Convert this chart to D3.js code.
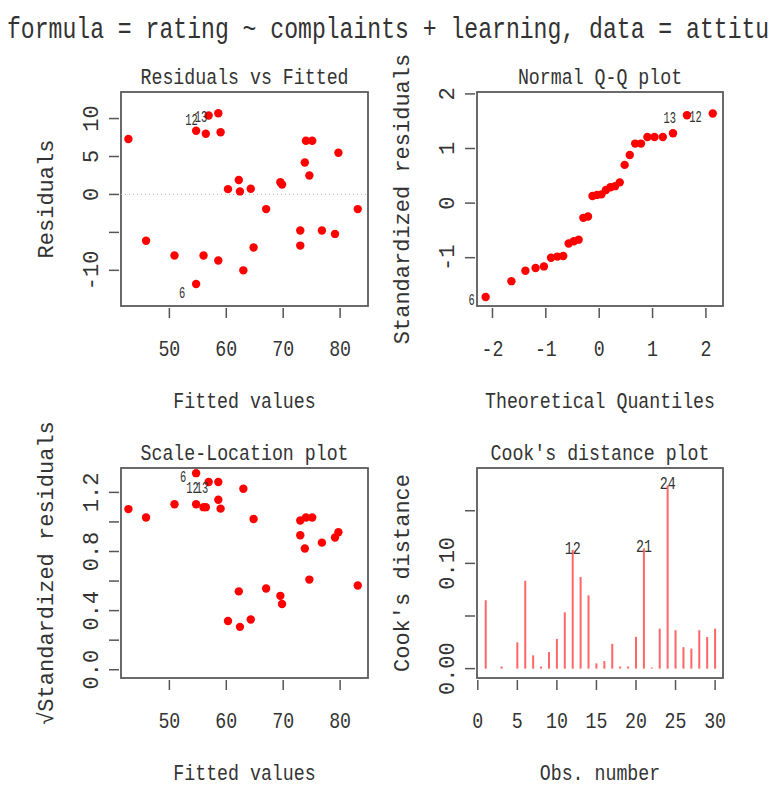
<!DOCTYPE html>
<html>
<head>
<meta charset="utf-8">
<script src="https://cdn.jsdelivr.net/npm/d3@7"></script>
<style>
body { margin: 0; background: #fff; }
text { font-family: "Liberation Mono", "DejaVu Sans Mono", monospace; fill: #333; }
</style>
</head>
<body>
<svg id="chart" width="769" height="786"></svg>
<script>
// lm(rating ~ complaints + learning, data = attitude)
var fitted = [50.9, 62.4, 69.5, 60.3, 74.0, 54.7, 64.8, 69.8, 76.8, 59.0,
	56.4, 56.9, 58.6, 73.0, 74.6, 83.1, 79.1, 64.3, 67.0, 58.6,
	42.8, 62.2, 63.0, 45.9, 54.7, 73.0, 73.8, 56.0, 79.7, 75.1];
var residuals = [-8.05, 0.4, 1.6, 0.7, 7.07, -11.8, -7.0, 1.3, -4.76, 8.2,
	8.0, 10.4, 10.7, -4.76, 2.5, -1.93, -5.2, 0.75, -1.93, -8.7,
	7.3, 1.9, -10.0, -6.1, 8.4, -6.74, 4.2, -8.05, 5.5, 7.07];
var sqrtStdResid = [1.12, 0.29, 0.50, 0.33, 1.03, 1.33, 1.02, 0.445, 0.86, 1.09,
	1.10, 1.27, 1.27, 1.01, 0.61, 0.57, 0.895, 0.34, 0.55, 1.15,
	1.087, 0.53, 1.225, 1.03, 1.12, 0.91, 0.82, 1.10, 0.93, 1.03];
var qqTheoretical = [-2.128, -1.645, -1.383, -1.192, -1.036, -0.903, -0.783, -0.674, -0.573, -0.477,
	-0.385, -0.297, -0.210, -0.126, -0.042, 0.042, 0.126, 0.210, 0.297, 0.385,
	0.477, 0.573, 0.674, 0.783, 0.903, 1.036, 1.192, 1.383, 1.645, 2.128];
var qqStdResid = [-1.72, -1.43, -1.24, -1.19, -1.16, -1.00, -0.98, -0.97, -0.74, -0.70,
	-0.67, -0.27, -0.245, 0.13, 0.15, 0.16, 0.24, 0.29, 0.31, 0.38,
	0.70, 0.88, 1.09, 1.09, 1.21, 1.21, 1.21, 1.28, 1.61, 1.64];
var qqLabels = ["6", "", "", "", "", "", "", "", "", "", "", "", "", "", "", "", "", "", "", "",
	"", "", "", "", "", "", "", "", "13", "12"];
var cooksD = [0.065, 0.0, 0.002, 0.0, 0.025, 0.0835, 0.0126, 0.002, 0.0157, 0.0283,
	0.0535, 0.1128, 0.087, 0.0696, 0.005, 0.0072, 0.0236, 0.002, 0.002, 0.0302,
	0.1143, 0.001, 0.038, 0.174, 0.0365, 0.0204, 0.019, 0.0365, 0.030, 0.038];
var idObs = [6, 12, 13];
var cookIdObs = [12, 21, 24];

var svg = d3.select("#chart");
var sx = 0.83;

function txt(sel, x, y, s, size, scaleX, anchor, rot) {
	var g = sel.append("g")
		.attr("transform", "translate(" + x + "," + y + ") scale(" + scaleX + ",1)" + (rot ? " rotate(" + rot + ")" : ""));
	g.append("text")
		.attr("text-anchor", anchor)
		.attr("font-size", size)
		.text(s);
}

// the title runs off the right edge, like in the original
txt(svg, 7, 38, "formula = rating ~ complaints + learning, data = attitude)", 30, 0.77, "start");

var cols = [{ x0: 121, x1: 368 }, { x0: 477, x1: 723 }];
var rows = [{ y0: 92, y1: 306 }, { y0: 468, y1: 678 }];

function panel(col, row, xScale, yScale, opt) {
	var g = svg.append("g");
	var cx = (col.x0 + col.x1) / 2;
	var cy = (row.y0 + row.y1) / 2;
	txt(g, cx, row.y0 - 8, opt.title, 22, sx, "middle");
	opt.xTicks.forEach(function (t, i) {
		var x = xScale(t);
		g.append("line").attr("x1", x).attr("x2", x).attr("y1", row.y1 + 2).attr("y2", row.y1 + 12)
			.attr("stroke", "#555").attr("stroke-width", 1.5);
		txt(g, x, row.y1 + 50, opt.xLabels[i], 22, sx, "middle");
	});
	opt.yTicks.forEach(function (t, i) {
		var y = yScale(t);
		g.append("line").attr("x1", col.x0 - 2).attr("x2", col.x0 - 12).attr("y1", y).attr("y2", y)
			.attr("stroke", "#555").attr("stroke-width", 1.5);
		if (opt.yLabels[i]) txt(g, col.x0 - 23, y, opt.yLabels[i], 22, 1, "middle", -90);
	});
	txt(g, cx, row.y1 + 102, opt.xTitle, 22, sx, "middle");
	txt(g, col.x0 - 68, cy, opt.yTitle, 22, 1, "middle", -90);
	g.append("rect")
		.attr("x", col.x0).attr("y", row.y0)
		.attr("width", col.x1 - col.x0).attr("height", row.y1 - row.y0)
		.attr("fill", "none").attr("stroke", "#5a5a5a").attr("stroke-width", 1.8);
	return g;
}

// Residuals vs Fitted
var xFit = d3.scaleLinear().domain([41.5, 84.9]).range([cols[0].x0, cols[0].x1]);
var yRes = d3.scaleLinear().domain([-14.7, 13.5]).range([rows[0].y1, rows[0].y0]);
var g1 = panel(cols[0], rows[0], xFit, yRes, {
	title: "Residuals vs Fitted", xTitle: "Fitted values", yTitle: "Residuals",
	xTicks: [50, 60, 70, 80], xLabels: ["50", "60", "70", "80"],
	yTicks: [-10, -5, 0, 5, 10], yLabels: ["-10", "", "0", "5", "10"]
});
g1.append("line")
	.attr("x1", cols[0].x0).attr("x2", cols[0].x1)
	.attr("y1", yRes(0)).attr("y2", yRes(0))
	.attr("stroke", "#bbb").attr("stroke-dasharray", "1,3");
g1.selectAll("circle").data(fitted).enter().append("circle")
	.attr("cx", function (d) { return xFit(d); })
	.attr("cy", function (d, i) { return yRes(residuals[i]); })
	.attr("r", 4.2).attr("fill", "#ff0000");
idObs.forEach(function (o) {
	var dy = o === 6 ? 14 : 9;
	txt(g1, xFit(fitted[o - 1]) - 11, yRes(residuals[o - 1]) + dy, String(o), 16, 0.65, "end");
});

// Normal Q-Q
var xQ = d3.scaleLinear().domain([-2.29, 2.32]).range([cols[1].x0, cols[1].x1]);
var yQ = d3.scaleLinear().domain([-1.885, 2.035]).range([rows[0].y1, rows[0].y0]);
var g2 = panel(cols[1], rows[0], xQ, yQ, {
	title: "Normal Q-Q plot", xTitle: "Theoretical Quantiles", yTitle: "Standardized residuals",
	xTicks: [-2, -1, 0, 1, 2], xLabels: ["-2", "-1", "0", "1", "2"],
	yTicks: [-1, 0, 1, 2], yLabels: ["-1", "0", "1", "2"]
});
g2.selectAll("circle").data(qqTheoretical).enter().append("circle")
	.attr("cx", function (d) { return xQ(d); })
	.attr("cy", function (d, i) { return yQ(qqStdResid[i]); })
	.attr("r", 4.2).attr("fill", "#ff0000");
qqLabels.forEach(function (l, i) {
	if (l) txt(g2, xQ(qqTheoretical[i]) - 11, yQ(qqStdResid[i]) + 8, l, 16, 0.65, "end");
});

// Scale-Location
var ySL = d3.scaleLinear().domain([-0.056, 1.365]).range([rows[1].y1, rows[1].y0]);
var g3 = panel(cols[0], rows[1], xFit, ySL, {
	title: "Scale-Location plot", xTitle: "Fitted values", yTitle: "\u221AStandardized residuals",
	xTicks: [50, 60, 70, 80], xLabels: ["50", "60", "70", "80"],
	yTicks: [0, 0.2, 0.4, 0.6, 0.8, 1.0, 1.2], yLabels: ["0.0", "", "0.4", "", "0.8", "", "1.2"]
});
g3.selectAll("circle").data(fitted).enter().append("circle")
	.attr("cx", function (d) { return xFit(d); })
	.attr("cy", function (d, i) { return ySL(sqrtStdResid[i]); })
	.attr("r", 4.2).attr("fill", "#ff0000");
idObs.forEach(function (o) {
	var dy = o === 6 ? 9 : 11;
	txt(g3, xFit(fitted[o - 1]) - 10, ySL(sqrtStdResid[o - 1]) + dy, String(o), 16, 0.65, "end");
});

// Cook's distance
var obs = d3.range(1, cooksD.length + 1);
var xC = d3.scaleLinear().domain([-0.1, 31.0]).range([cols[1].x0, cols[1].x1]);
var yC = d3.scaleLinear().domain([-0.0089, 0.1906]).range([rows[1].y1, rows[1].y0]);
var g4 = panel(cols[1], rows[1], xC, yC, {
	title: "Cook's distance plot", xTitle: "Obs. number", yTitle: "Cook's distance",
	xTicks: [0, 5, 10, 15, 20, 25, 30], xLabels: ["0", "5", "10", "15", "20", "25", "30"],
	yTicks: [0, 0.05, 0.10, 0.15], yLabels: ["0.00", "", "0.10", ""]
});
g4.selectAll("line.bar").data(cooksD).enter().append("line")
	.attr("class", "bar")
	.attr("x1", function (d, i) { return xC(obs[i]); })
	.attr("x2", function (d, i) { return xC(obs[i]); })
	.attr("y1", yC(0))
	.attr("y2", function (d) { return yC(d); })
	.attr("stroke", "#ff6666").attr("stroke-width", 2);
cookIdObs.forEach(function (o) {
	txt(g4, xC(o), yC(cooksD[o - 1]) + 4, String(o), 19, 0.7, "middle");
});
</script>
</body>
</html>
